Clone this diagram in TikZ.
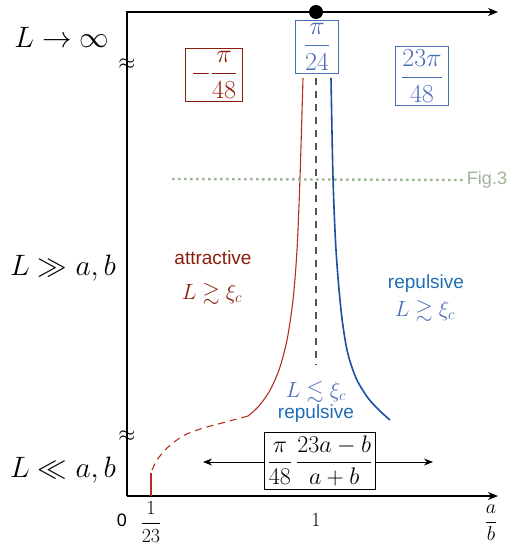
\RequirePackage{fix-cm}
\documentclass[tikz,border=0pt]{standalone}
\usepackage{amsmath,amssymb}
\usepackage[no-math]{fontspec}
\setsansfont{Liberation Sans}
\usepackage{xcolor}
\definecolor{cAttr}{HTML}{8A1C0C}
\definecolor{cAttrLine}{HTML}{B0301C}
\definecolor{cRep}{HTML}{1F6DB5}
\definecolor{cRepLine}{HTML}{1A4FA0}
\definecolor{cRepSoft}{HTML}{4A6DB8}
\definecolor{cFig}{HTML}{9DB597}
\definecolor{cGray}{HTML}{555555}
\usepackage{tikz}
\usetikzlibrary{positioning,arrows.meta}
\tikzset{
  axis/.style={line width=1.2pt,-{Stealth[length=10pt,width=8pt]}},
  axis-break/.style={inner sep=0pt,font=\fontsize{22}{24}\selectfont},
  pole/.style={circle,fill=black,inner sep=0pt,minimum size=14pt},
  val-box/.style={draw,line width=0.8pt,inner ysep=3.5pt,inner xsep=5.5pt,
    font=\fontsize{26}{30}\selectfont},
  lim-label/.style={font=\fontsize{29.5}{34}\selectfont},
  tick-label/.style={font=\fontsize{20}{24}\selectfont},
  word-attr/.style={text=cAttr,font=\sffamily\fontsize{19}{22}\selectfont},
  word-rep/.style={text=cRep,font=\sffamily\fontsize{19}{22}\selectfont},
  math-label/.style={font=\fontsize{22}{26}\selectfont},
  curve-attr/.style={draw=cAttrLine,line width=1.1pt},
  curve-rep/.style={draw=cRepLine,line width=1.6pt},
  center-line/.style={draw=cGray,line width=1.2pt,dash pattern=on 7pt off 6pt},
  ref-line/.style={draw=cFig,line width=2.4pt,dash pattern=on 2.6pt off 3.4pt},
  arrow/.style={-{Stealth[length=9pt,width=7pt]},line width=0.9pt},
}
\begin{document}
\begin{tikzpicture}[x=1pt,y=-1pt]
  \useasboundingbox (0,0) rectangle (511,548);
  % axes
  \coordinate (O) at (127,496);
  \coordinate (yTop) at (127,12);
  \coordinate (xEnd) at (498,496);
  \coordinate (tEnd) at (498,12);
  \draw[axis] (O) -- (xEnd);
  \draw[axis] (O) -- (yTop) -- (tEnd);
  \node[axis-break] (brkHi) at (127,64) {$\approx$};
  \node[axis-break] (brkLo) at (127,436) {$\approx$};
  \node[pole] (pole) at (316,12) {};

  % limits of L
  \node[lim-label] (limInf) at (62,37) {$L\to\infty$};
  \node[lim-label] (limBig) at (63,268) {$L\gg a,b$};
  \node[lim-label] (limSmall) at (63,470) {$L\ll a,b$};

  % tick labels
  \node[font=\sffamily\fontsize{18}{20}\selectfont] (t0) at (122,520) {0};
  \node[tick-label] (t23) at (151,522) {$\dfrac{1}{23}$};
  \node[tick-label] (t1) at (316,520) {$1$};
  \node[tick-label] (tab) at (491,523) {$\dfrac{a}{b}$};

  % values at L -> infinity
  \node[val-box,draw=cAttr,text=cAttr] (vAttr) at (214,75) {$-\dfrac{\pi}{48}$};
  \node[val-box,draw=cRepSoft,text=cRepSoft,inner xsep=8pt] (vMid) at (317,47) {$\dfrac{\pi}{24}$};
  \node[val-box,draw=cRepSoft,text=cRepSoft] (vRep) at (422,76) {$\dfrac{23\pi}{48}$};

  % centre line
  \coordinate (cTop) at (316,78);
  \coordinate (cBot) at (316,365);
  \draw[center-line] (cTop) -- (cBot);

  % boundary curves
  \draw[curve-attr] plot[smooth] coordinates {(303,78) (300,178) (297,250)
    (293,300) (287,340) (279,370) (269,392) (258,407) (248,416)};
  \draw[curve-attr,dash pattern=on 7pt off 5pt] plot[smooth] coordinates {(248,416)
    (222,423) (200,429) (183,436) (167,448) (157,460) (152,470)};
  \coordinate (aTop) at (151,473);
  \coordinate (aBot) at (151,496);
  \draw[curve-attr] (aTop) -- (aBot);
  \draw[curve-rep] plot[smooth] coordinates {(331,78) (333,178) (336,250)
    (341,310) (347,350) (356,378) (368,398) (380,411) (390,420)};

  % Fig.3 cut
  \coordinate (figL) at (172,179);
  \node[text=cFig,font=\sffamily\fontsize{18}{20}\selectfont] (fig3) at (487,180) {Fig.3};
  \draw[ref-line] (figL) -- (fig3.west);

  % regions
  \node[word-attr] (wAttr) at (213,258) {attractive};
  \node[math-label,text=cAttr] (mAttr) at (212,294) {$L\gtrsim\xi_c$};
  \node[word-rep] (wRep) at (426,284) {repulsive};
  \node[math-label,text=cRepSoft] (mRep) at (425,311) {$L\gtrsim\xi_c$};
  \node[math-label,text=cRepSoft] (mLow) at (316,392) {$L\lesssim\xi_c$};
  \node[word-rep] (wLow) at (316,414) {repulsive};

  % small-L value
  \node[draw,line width=0.8pt,inner sep=3pt,font=\fontsize{24}{28}\selectfont]
    (vSmall) at (320,461) {$\dfrac{\pi}{48}\,\dfrac{23a-b}{a+b}$};
  \coordinate (sL) at (203,462);
  \coordinate (sR) at (433,462);
  \draw[arrow] (vSmall.west |- sL) -- (sL);
  \draw[arrow] (vSmall.east |- sR) -- (sR);
\end{tikzpicture}
\end{document}
